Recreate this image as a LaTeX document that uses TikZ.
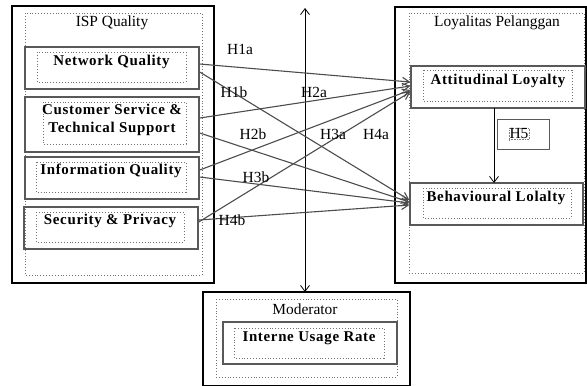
\documentclass[tikz,border=0pt]{standalone}
\usepackage{fontspec}
\setmainfont{Liberation Serif}
\newfontfamily\boxfont[LetterSpace=4.5]{Liberation Serif}
\usetikzlibrary{arrows.meta}
\tikzset{
  thickbox/.style={draw=black, line width=2.6pt},
  dotbox/.style={draw=black!55, dotted, line width=0.9pt},
  solidbox/.style={draw=black!65, line width=1.3pt},
  lbl/.style={font=\fontsize{15.5}{17}\selectfont, inner sep=0pt},
  blbl/.style={font=\fontsize{15}{18.5}\boxfont\bfseries, inner sep=0pt, align=center},
  hyp/.style={-{Straight Barb[length=7pt,width=8pt]}, draw=black!70, line width=1.1pt},
  thin/.style={draw=black, line width=0.8pt}
}
\begin{document}
\begin{tikzpicture}[x=1bp,y=-1bp]
\useasboundingbox (0,0) rectangle (587,385);
% Left group
\draw[thickbox] (12,6) rectangle (214,283);
\draw[dotbox] (25,13) rectangle (202,275);
\node[lbl] (ispt) at (112,23) {ISP Quality};
\node[solidbox, minimum width=174bp, minimum height=42bp, inner sep=0pt] (nq) at (112,68) {};
\draw[dotbox] (37,52) rectangle (186,82);
\node[blbl] (nqt) at (111.5,62) {Network Quality};
\node[solidbox, minimum width=174bp, minimum height=55bp, inner sep=0pt] (cs) at (112,124.5) {};
\draw[dotbox] (43,102) rectangle (186,144);
\node[blbl] (cst) at (112,120) {Customer Service \&\\Technical Support};
\node[solidbox, minimum width=174bp, minimum height=42bp, inner sep=0pt] (iq) at (112,178) {};
\draw[dotbox] (36,162) rectangle (186,192);
\node[blbl] (iqt) at (111,171) {Information Quality};
\node[solidbox, minimum width=174bp, minimum height=42bp, inner sep=0pt] (sp) at (111,228) {};
\draw[dotbox] (36,212) rectangle (184,242);
\node[blbl] (spt) at (110,221) {Security \& Privacy};
% Right group
\draw[thickbox] (395,7) rectangle (586,283);
\draw[dotbox] (409,13) rectangle (584,273);
\node[lbl] (lpt) at (497,23) {Loyalitas Pelanggan};
\node[solidbox, minimum width=174bp, minimum height=42bp, inner sep=0pt] (al) at (498,87) {};
\draw[dotbox] (423,70) rectangle (572,101);
\node[blbl] (alt) at (498,81) {Attitudinal Loyalty};
\node[solidbox, minimum width=173bp, minimum height=42bp, inner sep=0pt] (bl) at (496.5,204) {};
\draw[dotbox] (423,188) rectangle (571,218);
\node[blbl] (blt) at (496,198) {Behavioural Lolalty};
\node[solidbox, line width=1pt, minimum width=52bp, minimum height=30bp, inner sep=0pt] (h5) at (523,134) {};
\node[lbl, draw=black!50, densely dotted, line width=0.6pt, inner sep=0.5pt] (h5t) at (519,134) {H5};
\coordinate (alb) at (494,108);
\coordinate (blt2) at (494,183);
\draw[thin, -{Straight Barb[length=6pt,width=9pt]}] (alb) -- (blt2);
% Moderator
\draw[thickbox] (203,292) rectangle (410,386);
\draw[dotbox] (216,299) rectangle (397,377);
\node[lbl] (modt) at (305,309) {Moderator};
\node[solidbox, minimum width=174bp, minimum height=42bp, inner sep=0pt] (iu) at (310,343) {};
\draw[dotbox] (234,328) rectangle (384,358);
\node[blbl] (iut) at (309,338) {Interne Usage Rate};
% Moderator double arrow
\coordinate (vtop) at (305,8);
\coordinate (vbot) at (305,292);
\draw[thin, {Straight Barb[length=6pt,width=9pt]}-{Straight Barb[length=6pt,width=9pt]}] (vbot) -- (vtop);
% Hypothesis arrows
\draw[hyp] ([yshift=4pt]nq.east) -- ([yshift=5pt]al.west);
\draw[hyp] ([yshift=-4pt]nq.east) -- ([yshift=4pt]bl.west);
\draw[hyp] ([yshift=6.5pt]cs.east) -- ([yshift=1pt]al.west);
\draw[hyp] ([yshift=-8.5pt]cs.east) -- ([yshift=2pt]bl.west);
\draw[hyp] ([yshift=8pt]iq.east) -- ([yshift=-3pt]al.west);
\draw[hyp] ([yshift=1pt]iq.east) -- ([yshift=1pt]bl.west);
\draw[hyp] ([yshift=6pt]sp.east) -- ([yshift=-5pt]al.west);
\draw[hyp] ([yshift=8pt]sp.east) -- ([yshift=-1pt]bl.west);
% Labels
\node[lbl] (h1a) at (240,49) {H1a};
\node[lbl] (h1b) at (234,92) {H1b};
\node[lbl] (h2a) at (314,92) {H2a};
\node[lbl] (h2b) at (253,134) {H2b};
\node[lbl] (h3a) at (333,134) {H3a};
\node[lbl] (h4a) at (376,134) {H4a};
\node[lbl] (h3b) at (256,177) {H3b};
\node[lbl] (h4b) at (232,220) {H4b};
\end{tikzpicture}
\end{document}
